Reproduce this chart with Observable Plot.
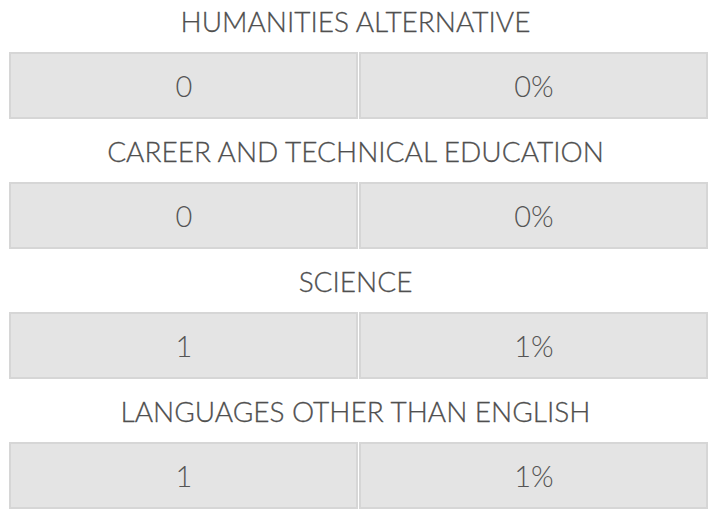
<!DOCTYPE html>
<html>
<head>
<meta charset="utf-8">
<script src="https://cdn.jsdelivr.net/npm/d3@7"></script>
<script src="https://cdn.jsdelivr.net/npm/@observablehq/plot@0.6"></script>
<style>
  html, body { margin: 0; padding: 0; background: #fff; }
  #chart svg { display: block; }
</style>
</head>
<body>
<div id="chart"></div>
<script>
const categories = ["HUMANITIES ALTERNATIVE", "CAREER AND TECHNICAL EDUCATION", "SCIENCE", "LANGUAGES OTHER THAN ENGLISH"];
const counts = [0, 0, 1, 1];
const percents = [0, 0, 1, 1];
const columns = ["count", "percent"];

const cells = [];
categories.forEach((c, i) => {
  cells.push({category: c, column: "count", label: String(counts[i])});
  cells.push({category: c, column: "percent", label: percents[i] + "%"});
});
const titles = categories.map(c => ({category: c}));

const chart = Plot.plot({
  width: 710,
  height: 510,
  margin: 0,
  style: {fontFamily: "Lato, sans-serif", background: "#fff"},
  x: {type: "band", domain: columns, range: [10, 708], paddingInner: 0.008, paddingOuter: 0, axis: null},
  y: {type: "band", domain: categories, range: [0, 520], padding: 0, axis: null},
  marks: [
    Plot.cell(cells, {x: "column", y: "category", fill: "#e4e4e4", stroke: "#d6d6d6", strokeWidth: 2, insetTop: 53, insetBottom: 12}),
    Plot.text(cells, {x: "column", y: "category", text: "label", dy: 22.5, fontSize: 29, fill: "#555", fontWeight: 300}),
    Plot.text(titles, {y: "category", text: "category", dy: -42, fontSize: 28, fill: "#4f4f4f", fontWeight: 300, stroke: "#4f4f4f", strokeWidth: 0.3})
  ]
});
document.getElementById("chart").appendChild(chart);
</script>
</body>
</html>
